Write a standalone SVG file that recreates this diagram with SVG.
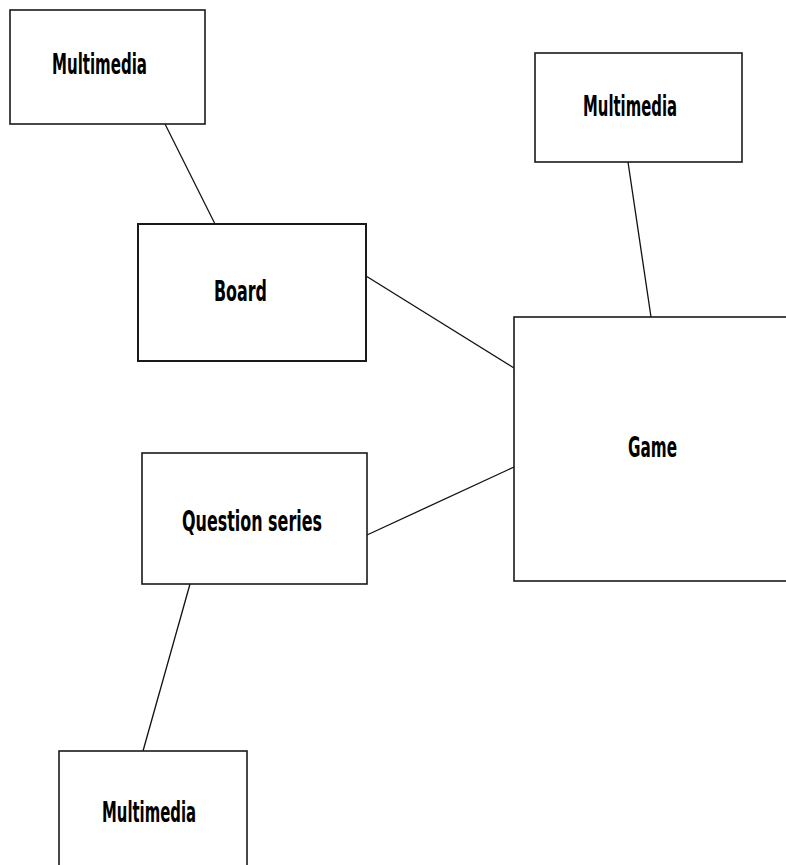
<svg xmlns="http://www.w3.org/2000/svg" width="786" height="865" viewBox="0 0 786 865">
<style>
.box{fill:#fff;stroke:#1a1a1a;stroke-width:1.6}
.lbl{font-family:"DejaVu Sans Condensed","DejaVu Sans","Liberation Sans",sans-serif;font-weight:bold;font-size:28px;fill:#000}
.conn line{stroke:#111;stroke-width:1.3}
</style>
<rect width="786" height="865" fill="#fff"/>
<g class="conn" id="connectors">
<line x1="165" y1="124" x2="215" y2="224"/>
<line x1="628" y1="162" x2="651" y2="317"/>
<line x1="366" y1="276" x2="514" y2="368"/>
<line x1="367" y1="535" x2="514" y2="467"/>
<line x1="190" y1="584" x2="143" y2="751"/>
</g>
<g id="mm1"><rect class="box" x="10" y="10" width="195" height="114"/><text class="lbl" x="52" y="74" textLength="95" lengthAdjust="spacingAndGlyphs">Multimedia</text></g>
<g id="mm2"><rect class="box" x="535" y="53" width="207" height="109"/><text class="lbl" x="583" y="116" textLength="94" lengthAdjust="spacingAndGlyphs">Multimedia</text></g>
<g id="board"><rect class="box" x="138" y="224" width="228" height="137" style="stroke-width:2"/><text class="lbl" x="214" y="301" textLength="53" lengthAdjust="spacingAndGlyphs">Board</text></g>
<g id="game"><rect class="box" x="514" y="317" width="290" height="264"/><text class="lbl" x="628" y="457" textLength="49" lengthAdjust="spacingAndGlyphs">Game</text></g>
<g id="qs"><rect class="box" x="142" y="453" width="225" height="131"/><text class="lbl" x="182" y="531" textLength="140" lengthAdjust="spacingAndGlyphs">Question series</text></g>
<g id="mm3"><rect class="box" x="59" y="751" width="188" height="130"/><text class="lbl" x="102" y="822" textLength="94" lengthAdjust="spacingAndGlyphs">Multimedia</text></g>
</svg>
